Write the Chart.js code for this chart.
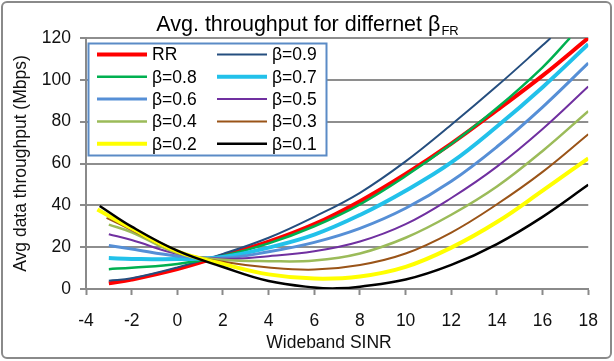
<!DOCTYPE html>
<html>
<head>
<meta charset="utf-8">
<script src="https://cdn.jsdelivr.net/npm/chart.js@4.4.1/dist/chart.umd.min.js"></script>
<style>
  html, body { margin: 0; padding: 0; background: #fff; }
  #wrap { position: relative; width: 614px; height: 361px; }
</style>
</head>
<body>
<div id="wrap"><canvas id="chart"></canvas></div>
<script>
// values (SINR in dB, throughput in Mbps)
const sinr = [-3, -2, 0, 2, 4, 6, 8, 10, 12, 14, 16, 18]
const sinrB09 = [-3, -2, 0, 2, 4, 6, 8, 10, 12, 14, 16, 16.35]
const sinrB08 = [-3, -2, 0, 2, 4, 6, 8, 10, 12, 14, 16, 17.2]
const sinrB03 = [-3.1, -2, 0, 2, 4, 6, 8, 10, 12, 14, 16, 18]
const sinrB02 = [-3.5, -2, 0, 2, 4, 6, 8, 10, 12, 14, 16, 18]
const sinrB01 = [-3.4, -2, 0, 2, 4, 6, 7, 8, 10, 12, 14, 16, 18]

const rr  = [2.7, 4.5, 9.5, 16, 22.6, 31, 42, 55, 69.5, 85.5, 102, 120]
const b09 = [4.0, 5.1, 10.3, 16.8, 24.5, 34.5, 46, 61, 78.5, 97, 116.5, 120]
const b08 = [9.5, 10.2, 12, 15.8, 21.8, 30, 40.5, 54, 69.3, 86.5, 106, 120]
const b07 = [14.8, 14.4, 14.3, 15.3, 19.8, 26, 35.4, 47, 60.5, 77.7, 96.5, 117]
const b06 = [20.8, 19.1, 15.8, 14.8, 17.8, 22.3, 29, 38.6, 51.5, 68, 87, 108]
const b05 = [26.2, 23.4, 16.8, 14.5, 15.7, 18, 22.7, 31, 43.5, 58.5, 76.5, 96.8]
const b04 = [30.8, 27.1, 17.2, 14, 13.3, 13.6, 17, 24.5, 35.5, 49, 66, 85]
const b03 = [34, 28.2, 17.6, 13, 10.3, 9.3, 11.5, 17, 27, 40.5, 56, 74]
const b02 = [38, 29, 18, 12, 7, 5, 6, 10.6, 19.8, 32, 47, 62.5]
const b01 = [39.7, 29.8, 18.3, 10.5, 3.8, 0.7, 0.3, 1.1, 4.5, 11.5, 21.5, 34.5, 49.8]

const labels = ['RR', 'β=0.9', 'β=0.8', 'β=0.7', 'β=0.6', 'β=0.5', 'β=0.4', 'β=0.3', 'β=0.2', 'β=0.1']
const xs = [sinr, sinrB09, sinrB08, sinr, sinr, sinr, sinr, sinrB03, sinrB02, sinrB01]
const ys = [rr, b09, b08, b07, b06, b05, b04, b03, b02, b01]
const colors = ['#ff0000', '#254e7f', '#00b050', '#22c1ea', '#568fd6', '#7030a0', '#9bbb59', '#9a5418', '#ffff00', '#000000']
const widths = [4, 2, 2.5, 4, 3, 2, 2.5, 2, 4, 2.5]

const FONT = "'Liberation Sans', Arial, sans-serif"

const datasets = labels.map((lab, i) => ({
  label: lab,
  data: xs[i].map((x, j) => ({ x: x, y: ys[i][j] })),
  borderColor: colors[i],
  backgroundColor: colors[i],
  borderWidth: widths[i],
  pointRadius: 0,
  showLine: true,
  tension: 0.4,
  order: -i
}))

// frame, title with subscript, x title and the boxed two-column legend
const decor = {
  id: 'decor',
  beforeDraw(chart) {
    const ctx = chart.ctx
    ctx.save()
    ctx.fillStyle = '#fff'
    ctx.fillRect(0, 0, chart.width, chart.height)
    ctx.strokeStyle = '#8a8a8a'
    ctx.lineWidth = 2
    ctx.beginPath()
    ctx.roundRect(2, 2, 609, 356, 5)
    ctx.stroke()
    // title
    const main = 'Avg. throughput for differnet β'
    ctx.fillStyle = '#000'
    ctx.textBaseline = 'alphabetic'
    ctx.font = '21.5px ' + FONT
    const w1 = ctx.measureText(main).width
    ctx.font = '13px ' + FONT
    const w2 = ctx.measureText('FR').width
    const x0 = 307 - (w1 + w2) / 2
    ctx.font = '21.5px ' + FONT
    ctx.textAlign = 'left'
    ctx.fillText(main, x0, 31)
    ctx.font = '13px ' + FONT
    ctx.fillText('FR', x0 + w1 + 1, 35)
    // x axis title
    ctx.font = '17.5px ' + FONT
    ctx.fillStyle = '#111'
    ctx.textAlign = 'center'
    ctx.textBaseline = 'middle'
    ctx.fillText('Wideband SINR', 329, 343)
    ctx.restore()
  },
  afterDraw(chart) {
    const ctx = chart.ctx
    ctx.save()
    ctx.fillStyle = '#fff'
    ctx.fillRect(88.5, 43.5, 238, 112)
    ctx.strokeStyle = '#5b8bc6'
    ctx.lineWidth = 2
    ctx.strokeRect(88.5, 43.5, 238, 112)
    ctx.font = '17.5px ' + FONT
    ctx.textBaseline = 'middle'
    ctx.textAlign = 'left'
    chart.data.datasets.forEach((ds, i) => {
      const col = i % 2
      const row = Math.floor(i / 2)
      const y = 54.5 + row * 22.3
      const lx = col === 0 ? 97 : 217
      ctx.strokeStyle = ds.borderColor
      ctx.lineWidth = ds.borderWidth
      ctx.beginPath()
      ctx.moveTo(lx, y)
      ctx.lineTo(lx + 50, y)
      ctx.stroke()
      ctx.fillStyle = '#000'
      ctx.fillText(ds.label, lx + 55, y + 1)
    })
    ctx.restore()
  }
}

const chart = new Chart(document.getElementById('chart'), {
  type: 'scatter',
  data: { datasets: datasets },
  options: {
    responsive: true,
    maintainAspectRatio: false,
    devicePixelRatio: 1,
    animation: false,
    layout: { padding: { left: 0, top: 38, right: 21, bottom: 0 } },
    plugins: {
      legend: { display: false },
      title: { display: false },
      tooltip: { enabled: false }
    },
    scales: {
      x: {
        type: 'linear',
        min: -4,
        max: 18,
        afterFit: (s) => { s.height = 72 },
        ticks: { stepSize: 2, color: '#111', padding: 16, maxRotation: 0, font: { size: 17.5, family: FONT } },
        grid: { drawOnChartArea: false, drawTicks: true, tickLength: 6, tickColor: '#8a8a8a', tickWidth: 2 },
        border: { color: '#8a8a8a', width: 2 }
      },
      y: {
        min: 0,
        max: 120,
        afterFit: (s) => { s.width = 86 },
        ticks: { stepSize: 20, color: '#111', padding: 9, font: { size: 17.5, family: FONT } },
        grid: { color: '#8e8e8e', lineWidth: 2, drawTicks: true, tickLength: 6, tickColor: '#8a8a8a', tickWidth: 2 },
        border: { color: '#8a8a8a', width: 2 },
        title: { display: true, text: 'Avg data throughput (Mbps)', color: '#111', padding: { top: 11, bottom: 0 }, font: { size: 17.5, family: FONT } }
      }
    }
  },
  plugins: [decor]
})
</script>
</body>
</html>
